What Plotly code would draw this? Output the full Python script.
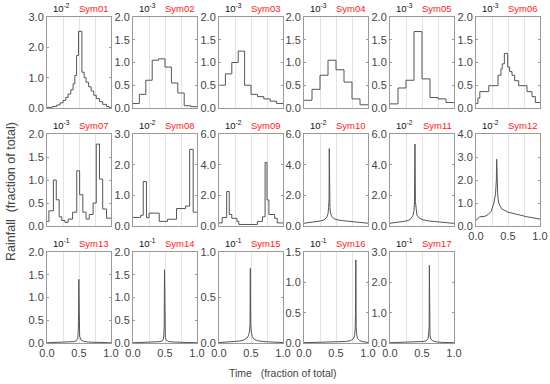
import numpy as np
import plotly.graph_objects as go

W, H = 550, 384

names = [f"Sym{i:02d}" for i in range(1, 18)]
exponents = [-2, -3, -3, -3, -3, -3, -3, -2, -2, -2, -2, -2, -1, -1, -1, -1, -1]
y_max = [3.0, 2.0, 2.0, 2.0, 2.0, 2.0, 2.0, 3.0, 6.0, 6.0, 6.0, 4.0, 2.0, 2.0, 1.0, 1.5, 3.0]
y_dtick = [1.0, 0.5, 0.5, 0.5, 0.5, 0.5, 0.5, 1.0, 2.0, 2.0, 2.0, 1.0, 0.5, 0.5, 0.5, 0.5, 1.0]
x_ticks = [0.0, 0.5, 1.0]
x_tick_text = ["0.0", "0.5", "1.0"]
x_minor_grid = [0.25, 0.75]

# ---- step (histogram-like) series: start time of each step and its value ----
sym01_t = [0.0, 0.084, 0.152, 0.204, 0.251, 0.293, 0.330, 0.372, 0.408, 0.435, 0.462, 0.492,
           0.545, 0.58, 0.61, 0.65, 0.69, 0.73, 0.77, 0.82, 0.87, 0.93, 0.97]
sym01_v = [0.02, 0.05, 0.10, 0.17, 0.25, 0.35, 0.46, 0.60, 0.80, 1.07, 1.73, 2.53,
           1.18, 1.00, 0.85, 0.70, 0.56, 0.42, 0.31, 0.21, 0.12, 0.05, 0.02]
sym02_v = [0.10, 0.30, 0.61, 1.05, 1.08, 0.90, 0.55, 0.33, 0.05, 0.03]
sym03_v = [0.50, 0.75, 1.00, 1.25, 0.50, 0.30, 0.25, 0.20, 0.15, 0.10]
sym04_v = [0.17, 0.41, 0.72, 1.05, 0.84, 0.57, 0.20, 0.07]
sym05_v = [0.09, 0.44, 0.61, 1.68, 0.64, 0.23, 0.20, 0.12]
sym06_t = [0.0, 0.03, 0.06, 0.20, 0.344, 0.39, 0.41, 0.443, 0.495, 0.526, 0.5625, 0.604,
           0.667, 0.797, 0.875, 0.927]
sym06_v = [0.10, 0.22, 0.36, 0.49, 0.72, 0.86, 0.97, 1.20, 0.90, 0.80, 0.72, 0.60,
           0.49, 0.36, 0.25, 0.12]
sym07_t = [0.00, 0.03, 0.10, 0.145, 0.19, 0.23, 0.28, 0.33, 0.40, 0.465, 0.51, 0.56, 0.61,
           0.66, 0.72, 0.77, 0.82, 0.87, 0.93]
sym07_v = [0.10, 0.33, 1.00, 0.57, 0.20, 0.12, 0.08, 0.15, 0.30, 1.20, 0.68, 0.30, 0.15,
           0.25, 0.50, 1.78, 1.02, 0.37, 0.17]
sym08_t = [0.0, 0.12, 0.16, 0.21, 0.25, 0.41, 0.54, 0.68, 0.82, 0.885, 0.94]
sym08_v = [0.28, 0.35, 1.45, 0.27, 0.42, 0.15, 0.22, 0.57, 0.65, 2.50, 0.45]
sym09_t = [0.00, 0.05, 0.12, 0.16, 0.20, 0.28, 0.31, 0.60, 0.68, 0.72, 0.75, 0.78, 0.87, 0.91]
sym09_v = [0.20, 0.55, 2.25, 0.75, 0.50, 0.30, 0.10, 0.30, 0.60, 4.15, 1.70, 0.75, 0.50, 0.20]

# ---- continuous series ----
sym10_t = [0.0, 0.1, 0.2, 0.25, 0.3, 0.33, 0.36, 0.375, 0.385, 0.392, 0.395, 0.398, 0.405,
           0.415, 0.43, 0.46, 0.5, 0.6, 0.7, 0.8, 0.9, 1.0]
sym10_v = [0.18, 0.22, 0.28, 0.32, 0.38, 0.45, 0.60, 0.80, 1.20, 1.80, 5.05, 1.80, 1.20,
           0.85, 0.65, 0.50, 0.42, 0.35, 0.30, 0.26, 0.22, 0.18]
sym11_t = [0.0, 0.1, 0.2, 0.25, 0.3, 0.33, 0.36, 0.375, 0.383, 0.39, 0.397, 0.405, 0.42,
           0.45, 0.5, 0.6, 0.7, 0.8, 0.9, 1.0]
sym11_v = [0.18, 0.22, 0.27, 0.32, 0.40, 0.50, 0.70, 1.00, 1.60, 5.35, 1.60, 1.00, 0.72,
           0.55, 0.42, 0.33, 0.28, 0.25, 0.21, 0.17]
sym12_t = [0.0, 0.03, 0.06, 0.14, 0.19, 0.24, 0.28, 0.305, 0.318, 0.323, 0.328, 0.34, 0.355,
           0.40, 0.5, 0.63, 0.8, 1.0]
sym12_v = [0.25, 0.35, 0.40, 0.42, 0.50, 0.65, 1.00, 1.40, 2.00, 2.90, 2.00, 1.30, 1.00,
           0.75, 0.60, 0.50, 0.40, 0.30]
sym13_t = [0.0, 0.2, 0.35, 0.42, 0.46, 0.48, 0.488, 0.493, 0.497, 0.502, 0.51, 0.53, 0.57,
           0.65, 0.8, 1.0]
sym13_v = [0.005, 0.01, 0.02, 0.03, 0.05, 0.10, 0.25, 0.50, 1.40, 0.45, 0.15, 0.07, 0.035,
           0.02, 0.01, 0.005]
sym14_t = [0.0, 0.2, 0.35, 0.42, 0.46, 0.475, 0.483, 0.488, 0.492, 0.497, 0.505, 0.52, 0.56,
           0.65, 0.8, 1.0]
sym14_v = [0.005, 0.01, 0.02, 0.03, 0.05, 0.09, 0.20, 0.40, 1.61, 0.30, 0.12, 0.06, 0.03,
           0.02, 0.01, 0.005]
sym15_t = [0.0, 0.15, 0.3, 0.38, 0.43, 0.46, 0.475, 0.485, 0.49, 0.495, 0.505, 0.52, 0.55,
           0.6, 0.7, 0.8, 1.0]
sym15_v = [0.005, 0.01, 0.02, 0.03, 0.05, 0.08, 0.12, 0.20, 0.82, 0.20, 0.12, 0.07, 0.04,
           0.025, 0.015, 0.01, 0.005]
sym16_t = [0.0, 0.3, 0.5, 0.65, 0.73, 0.77, 0.79, 0.80, 0.805, 0.81, 0.815, 0.825, 0.84,
           0.87, 0.92, 1.0]
sym16_v = [0.005, 0.01, 0.015, 0.025, 0.04, 0.07, 0.12, 0.25, 0.50, 1.37, 0.25, 0.12, 0.07,
           0.04, 0.02, 0.01]
sym17_t = [0.0, 0.3, 0.45, 0.53, 0.57, 0.595, 0.605, 0.612, 0.615, 0.618, 0.625, 0.64, 0.67,
           0.72, 0.8, 1.0]
sym17_v = [0.01, 0.02, 0.03, 0.05, 0.08, 0.15, 0.30, 0.60, 2.56, 0.60, 0.25, 0.12, 0.07,
           0.04, 0.02, 0.01]


def uniform(vals):
    return list(np.linspace(0, 1, len(vals) + 1)[:-1]), vals


series = [
    ("step", sym01_t, sym01_v),
    ("step",) + tuple(uniform(sym02_v)),
    ("step",) + tuple(uniform(sym03_v)),
    ("step",) + tuple(uniform(sym04_v)),
    ("step",) + tuple(uniform(sym05_v)),
    ("step", sym06_t, sym06_v),
    ("step", sym07_t, sym07_v),
    ("step", sym08_t, sym08_v),
    ("step", sym09_t, sym09_v),
    ("line", sym10_t, sym10_v),
    ("line", sym11_t, sym11_v),
    ("line", sym12_t, sym12_v),
    ("line", sym13_t, sym13_v),
    ("line", sym14_t, sym14_v),
    ("line", sym15_t, sym15_v),
    ("line", sym16_t, sym16_v),
    ("line", sym17_t, sym17_v),
]

# layout geometry (page pixels)
col_left = [47, 133, 219, 304, 390, 476]
panel_w = 64
row_tb = [(17, 108), (134, 226), (252, 343)]


def px(x):
    return x / W


def py(y):
    return (H - y) / H


FONT = "Liberation Sans, Arial, sans-serif"
AX_COL = "#9a9a9a"
TXT_COL = "#444444"

fig = go.Figure()
annotations = []

for i, (kind, t, v) in enumerate(series):
    row, col = divmod(i, 6)
    left = col_left[col]
    top, bot = row_tb[row]
    n = i + 1
    xa = "xaxis" if n == 1 else f"xaxis{n}"
    ya = "yaxis" if n == 1 else f"yaxis{n}"
    xr = "x" if n == 1 else f"x{n}"
    yr = "y" if n == 1 else f"y{n}"

    if kind == "step":
        xs = list(t) + [1.0]
        ys = list(v) + [v[-1]]
        shape = "hv"
    else:
        xs, ys, shape = t, v, "linear"
    fig.add_trace(go.Scatter(x=xs, y=ys, mode="lines", xaxis=xr, yaxis=yr,
                             line=dict(color="#555555", width=1, shape=shape),
                             showlegend=False, hoverinfo="skip"))

    show_x_labels = row == 2 or i == 11
    fig.layout[xa] = dict(
        domain=[px(left), px(left + panel_w)], anchor=yr, range=[0, 1],
        tickvals=x_ticks, ticktext=x_tick_text, showticklabels=show_x_labels,
        showgrid=True, gridcolor="#e3e3e3", gridwidth=1, zeroline=False,
        minor=dict(tickvals=x_minor_grid, showgrid=True, gridcolor="#e3e3e3", gridwidth=1),
        showline=True, linecolor=AX_COL, linewidth=1, mirror=True,
        ticks="", tickfont=dict(family=FONT, size=11, color=TXT_COL), fixedrange=True,
    )
    ymx = y_max[i]
    yt = list(np.arange(0, ymx + 1e-9, y_dtick[i]))
    fig.layout[ya] = dict(
        domain=[py(bot), py(top)], anchor=xr, range=[0, ymx],
        tickvals=yt, ticktext=[f"{val:.1f}" for val in yt],
        showgrid=False, zeroline=False,
        showline=True, linecolor=AX_COL, linewidth=1, mirror="ticks",
        ticks="inside", ticklen=2, tickcolor=AX_COL,
        tickfont=dict(family=FONT, size=11, color=TXT_COL), fixedrange=True,
    )

    annotations.append(dict(
        x=px(left + 4), y=py(top - 1), xref="paper", yref="paper",
        xanchor="left", yanchor="bottom", showarrow=False,
        text=f"10<sup>{exponents[i]}</sup>",
        font=dict(family=FONT, size=9.5, color="#111111")))
    annotations.append(dict(
        x=px(left + panel_w), y=py(top - 1), xref="paper", yref="paper",
        xanchor="right", yanchor="bottom", showarrow=False, text=names[i],
        font=dict(family=FONT, size=9.5, color="#ff2020")))

annotations.append(dict(
    x=px(11), y=py(192), xref="paper", yref="paper", textangle=-90,
    xanchor="center", yanchor="middle", showarrow=False,
    text="Rainfall  (fraction of total)", font=dict(family=FONT, size=12.5, color=TXT_COL)))
annotations.append(dict(
    x=px(283), y=py(373), xref="paper", yref="paper",
    xanchor="center", yanchor="middle", showarrow=False,
    text="Time   (fraction of total)", font=dict(family=FONT, size=10.5, color=TXT_COL)))

fig.update_layout(
    width=W, height=H, margin=dict(l=0, r=0, t=0, b=0, autoexpand=False),
    paper_bgcolor="white", plot_bgcolor="white", annotations=annotations,
)

fig.write_html("out.html", config={"displayModeBar": False},
               post_script="document.body.style.margin='0';document.body.style.overflow='hidden';")
